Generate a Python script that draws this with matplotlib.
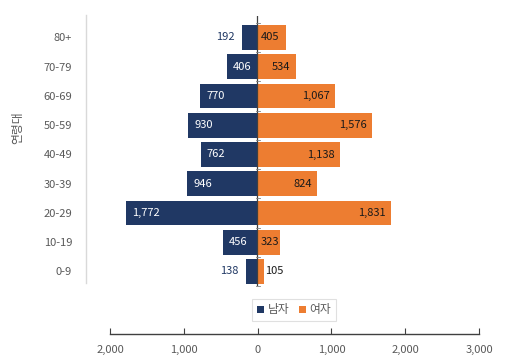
import matplotlib
matplotlib.use("Agg")
import matplotlib.pyplot as plt
from matplotlib.patches import Patch
from matplotlib.lines import Line2D

plt.rcParams['font.family'] = ['Noto Sans CJK KR', 'DejaVu Sans']

categories = ["0-9", "10-19", "20-29", "30-39", "40-49", "50-59", "60-69", "70-79", "80+"]
male = [138, 456, 1772, 946, 762, 930, 770, 406, 192]
female = [105, 323, 1831, 824, 1138, 1576, 1067, 534, 405]
series_names = ["남자", "여자"]
axis_ticks = [-2000, -1000, 0, 1000, 2000, 3000]
y_title = "연령대"

NAVY = "#203864"
ORANGE = "#ED7D31"
GRAY = "#595959"

W, H = 505, 364
fig = plt.figure(figsize=(W / 100, H / 100), dpi=100)

def fx(px):
    return px / W

def fy(py):
    return 1 - py / H

x0px, scale = 256.5, 0.0734
left_px, right_px = 86, 479
top_px, bot_px = 16, 286
ax = fig.add_axes([fx(left_px), fy(bot_px), fx(right_px - left_px), (bot_px - top_px) / H])
ax.set_xlim((left_px - x0px) / scale, (right_px - x0px) / scale)
ax.set_ylim(-0.496, 8.735)

ys = list(range(len(categories)))
h = 0.85
ax.barh(ys, [-m for m in male], height=h, color=NAVY, zorder=2)
ax.barh(ys, female, height=h, color=ORANGE, zorder=2)

for y, m, f in zip(ys, male, female):
    ml = f"{m:,}"
    if m > 300:
        ax.text(-m + 6 / scale, y, ml, ha="left", va="center", color="white", fontsize=8, zorder=3)
    else:
        ax.text(-m - 8 / scale, y, ml, ha="right", va="center", color=NAVY, fontsize=8, zorder=3)
    fl = f"{f:,}"
    if f * scale >= 33:
        ax.text(f - 5 / scale, y, fl, ha="right", va="center", color="#1a1a1a", fontsize=8, zorder=3)
    elif f * scale >= 20:
        ax.text(4.5 / scale, y, fl, ha="left", va="center", color="#1a1a1a", fontsize=8, zorder=3)
    else:
        ax.text(f + 0.5 / scale, y, fl, ha="left", va="center", color="#1a1a1a", fontsize=8, zorder=3)

ax.axvline(0, color="#404040", lw=0.9, zorder=4)
for b in [i + 0.5 for i in range(-1, len(categories))]:
    ax.plot([-1 / scale, 3 / scale], [b, b], color="#7f7f7f", lw=0.6, zorder=4, clip_on=False)

ax.set_yticks(ys)
ax.set_yticklabels(categories, color=GRAY, fontsize=8)
ax.tick_params(axis="y", length=0, pad=10)
ax.set_xticks([])
for s in ["top", "right", "bottom", "left"]:
    ax.spines[s].set_visible(False)
fig.add_artist(Line2D([fx(86), fx(86)], [fy(15), fy(283)], color="#d9d9d9", lw=1))

ax.text(fx(18), fy(128), y_title, transform=fig.transFigure, rotation=90,
        ha="center", va="center", color=GRAY, fontsize=8.5)

bx = fig.add_axes([fx(110), fy(334), fx(479 - 110), 0.001])
bx.set_xlim(-2000, 3000)
bx.set_ylim(0, 1)
bx.set_xticks(axis_ticks)
bx.set_xticklabels([f"{abs(t):,}" for t in axis_ticks], color=GRAY, fontsize=8)
bx.tick_params(axis="x", direction="in", length=4, color="#404040", pad=8)
bx.set_yticks([])
for s in ["top", "right", "left"]:
    bx.spines[s].set_visible(False)
bx.spines["bottom"].set_color("#404040")
bx.spines["bottom"].set_linewidth(1)
bx.patch.set_visible(False)

handles = [Patch(facecolor=NAVY, label=series_names[0]), Patch(facecolor=ORANGE, label=series_names[1])]
leg = fig.legend(handles=handles, loc="center", bbox_to_anchor=(fx(294), fy(310)), ncol=2,
                 fontsize=8.5, frameon=True, fancybox=False, handlelength=0.6, handleheight=0.6,
                 handletextpad=0.3, columnspacing=0.8, borderpad=0.4, labelcolor=GRAY)
leg.get_frame().set_edgecolor("#d9d9d9")
leg.get_frame().set_linewidth(0.8)

fig.savefig("out.png", dpi=100)
